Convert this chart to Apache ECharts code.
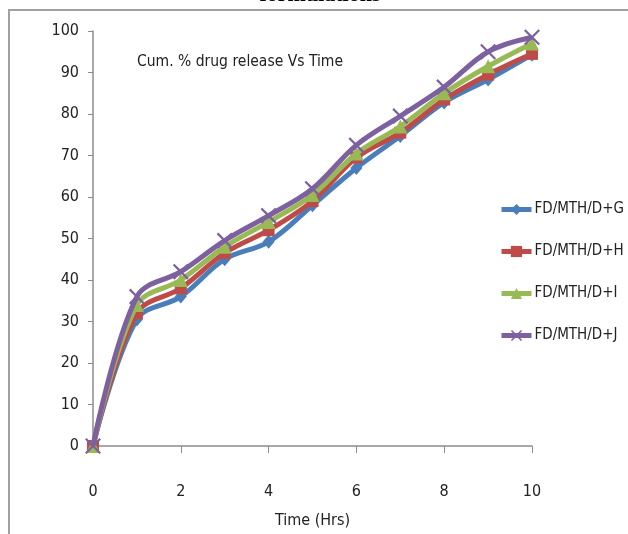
<!DOCTYPE html>
<html>
<head>
<meta charset="utf-8">
<script src="https://cdn.jsdelivr.net/npm/echarts@6/dist/echarts.min.js"></script>
<style>
  html, body { margin: 0; padding: 0; background: #fff; }
  #chart { width: 628px; height: 534px; }
</style>
</head>
<body>
<div id="chart"></div>
<script>
// time points (hrs)
const timeHrs = [0, 1, 2, 3, 4, 5, 6, 7, 8, 9, 10]
const xTicks = [0, 2, 4, 6, 8, 10]
const yTicks = [0, 10, 20, 30, 40, 50, 60, 70, 80, 90, 100]

const seriesNames = ['FD/MTH/D+G', 'FD/MTH/D+H', 'FD/MTH/D+I', 'FD/MTH/D+J']
// cumulative % drug release
const relG = [0, 30.5, 36, 45, 49.2, 58, 67, 74.7, 82.8, 88.3, 94.3]
const relH = [0, 32, 38, 46.5, 52, 59, 69.5, 75.5, 83.5, 89.5, 94.5]
const relI = [0, 34, 40, 48, 54, 60.5, 70.5, 77, 85, 91.5, 97]
const relJ = [0, 36, 42, 49.5, 55.5, 62, 72.5, 79.5, 86.5, 95, 98.5]

const colors = ['#4a7ebb', '#be4b48', '#98b954', '#7d60a0']
const symbols = [
  'diamond',
  'rect',
  'triangle',
  'path://M0,1L1,0L5,4L9,0L10,1L6,5L10,9L9,10L5,6L1,10L0,9L4,5Z'
]
const symbolSizes = [[12, 14], 12, 14, 16]

const font = '"DejaVu Sans Condensed", sans-serif'

function pairs(vals) {
  return timeHrs.map((t, i) => [t, vals[i]])
}

const allData = [relG, relH, relI, relJ]

const option = {
  animation: false,
  backgroundColor: '#fff',
  textStyle: { fontFamily: font },
  graphic: [
    {
      type: 'rect',
      shape: { x: 9, y: 10, width: 700, height: 600 },
      style: { fill: 'none', stroke: '#a0a0a0', lineWidth: 2 },
      silent: true
    },
    {
      type: 'text',
      x: 320,
      y: -16,
      style: {
        text: 'formulations',
        fontFamily: '"Liberation Serif", serif',
        fontWeight: 'bold',
        fontSize: 22,
        fill: '#000',
        textAlign: 'center',
        textVerticalAlign: 'top'
      }
    },
    {
      type: 'text',
      x: 137,
      y: 62,
      style: {
        text: 'Cum. % drug release Vs Time',
        fontFamily: font,
        fontSize: 15.5,
        fill: '#222',
        textVerticalAlign: 'middle'
      }
    }
  ],
  legend: {
    orient: 'vertical',
    left: 494,
    top: 197,
    itemWidth: 30,
    itemHeight: 14,
    itemGap: 27,
    data: seriesNames,
    lineStyle: { width: 5 },
    textStyle: { fontFamily: font, fontSize: 15, color: '#222', padding: [0, 0, 0, -2] }
  },
  grid: { left: 93, right: 96, top: 31, bottom: 84 },
  xAxis: {
    type: 'value',
    min: 0,
    max: 10,
    interval: 2,
    name: 'Time (Hrs)',
    nameLocation: 'middle',
    nameGap: 67,
    nameTextStyle: { fontFamily: font, fontSize: 16, color: '#222' },
    axisLine: { lineStyle: { color: '#8c8c8c', width: 1.5 } },
    axisTick: { inside: false, length: 7, lineStyle: { color: '#8c8c8c' } },
    axisLabel: { margin: 38, fontSize: 16, color: '#222', fontFamily: font },
    splitLine: { show: false }
  },
  yAxis: {
    type: 'value',
    min: 0,
    max: 100,
    interval: 10,
    axisLine: { show: true, lineStyle: { color: '#8c8c8c', width: 1.5 } },
    axisTick: { show: true, length: 5, lineStyle: { color: '#8c8c8c' } },
    axisLabel: { margin: 14, fontSize: 16, color: '#222', fontFamily: font },
    splitLine: { show: false }
  },
  series: seriesNames.map((name, i) => ({
    name: name,
    type: 'line',
    data: pairs(allData[i]),
    smooth: 0.35,
    symbol: symbols[i],
    symbolSize: symbolSizes[i],
    showAllSymbol: true,
    lineStyle: { color: colors[i], width: 5 },
    itemStyle: { color: colors[i], borderWidth: 0 },
    z: 2 + i
  }))
}

const myChart = echarts.init(document.getElementById('chart'))
myChart.setOption(option)
</script>
</body>
</html>
